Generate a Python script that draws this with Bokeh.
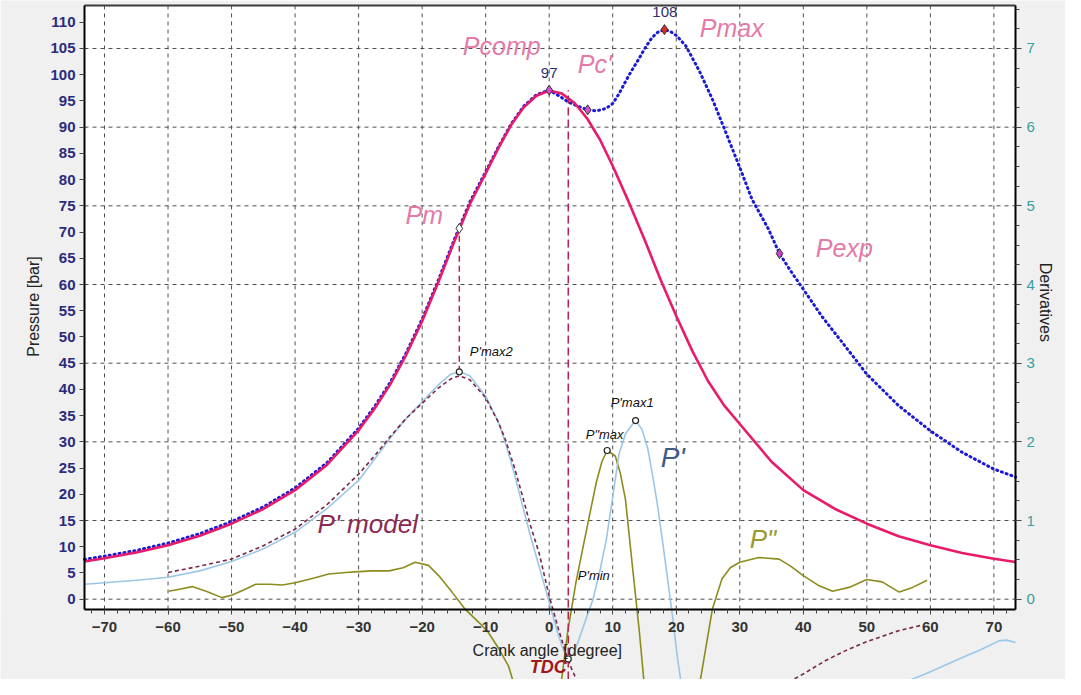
import math
from bokeh.plotting import figure
from bokeh.models import Range1d, LinearAxis, FixedTicker, BoxAnnotation
from bokeh.core.properties import value
from bokeh.embed import file_html
from bokeh.resources import INLINE

# ---------------- data ----------------
x_ticks = [-70, -60, -50, -40, -30, -20, -10, 0, 10, 20, 30, 40, 50, 60, 70]
x_minor = list(range(-72, 74, 2))
p_ticks = list(range(0, 115, 5))
d_ticks = [0, 1, 2, 3, 4, 5, 6, 7]
d_minor = [i * 0.25 for i in range(0, 31)]
h_grid = [0, 15, 30, 45, 60, 75, 90, 105]

# motored (compression) pressure, bar
red_x = [-73.15, -70, -65, -60, -55, -50, -45, -40, -35, -30, -27.5, -25, -22.5, -20,
         -17.5, -15, -12.5, -10, -8, -6, -4, -2, 0, 2, 4, 6, 8, 10, 12.5, 15, 17.5, 20,
         22.5, 25, 27.5, 30, 35, 40, 45, 50, 55, 60, 65, 70, 73.4]
red_y = [7.2, 7.8, 8.9, 10.3, 12.1, 14.4, 17.2, 20.8, 25.6, 32.2, 36.3, 41.0, 46.6, 53.0,
         60.3, 68.0, 75.3, 81.2, 86.0, 90.4, 93.8, 96.0, 97.0, 96.4, 94.6, 91.6, 87.6, 82.6,
         75.8, 68.6, 61.0, 54.0, 47.4, 41.6, 37.0, 33.4, 26.2, 20.8, 17.2, 14.4, 12.0, 10.3,
         8.8, 7.7, 7.1]

# measured cylinder pressure, bar
blue_x = [-73.15, -70, -65, -60, -55, -50, -45, -40, -35, -30, -27.5, -25, -22.5, -20,
          -17.5, -15, -12.5, -10, -8, -6, -4, -2, 0, 1.5, 3, 4.5, 6.06, 7.5, 9, 10, 11,
          12.5, 14.1, 15.2, 16.2, 17.1, 18.14, 19, 20.1, 21.5, 23.6, 25.7, 27.8, 30.1,
          31.9, 34.5, 36.25, 38, 40, 43, 46.1, 50, 55, 60, 65, 70, 73.4]
blue_y = [7.6, 8.2, 9.3, 10.7, 12.5, 14.8, 17.6, 21.2, 26.0, 32.6, 36.7, 41.4, 47.0, 53.4,
          60.7, 68.4, 75.7, 81.5, 86.2, 90.6, 94.0, 96.2, 97.06, 96.0, 94.8, 94.0, 93.3,
          93.1, 93.6, 94.5, 96.4, 99.8, 103.0, 105.3, 107.1, 108.1, 108.6, 108.3, 107.4,
          105.5, 100.8, 95.3, 89.0, 82.0, 76.3, 70.6, 65.9, 62.6, 59.1, 53.8, 49.0, 42.9,
          36.9, 32.1, 28.0, 24.8, 23.3]

# first derivative P' (derivative units)
dp_x = [-73.15, -70, -65, -60, -55, -50, -45, -40, -35, -30, -27.5, -25, -22.5, -20,
        -17.5, -15.5, -14.15, -12.5, -10, -8, -6.9, -5.5, -4.2, -3, -1.6, 0, 1.3, 2.2,
        3.0, 3.8, 4.7, 5.8, 6.9, 8, 9, 10, 11, 12, 12.7, 13.6, 14.6, 15.5, 16.2, 17.0,
        17.8, 18.6, 19.4, 20.2, 21.0, 25, 35, 45, 54, 59.2, 64.5, 68, 70.8, 72, 73.4]
dp_y = [0.19, 0.21, 0.24, 0.28, 0.36, 0.48, 0.64, 0.85, 1.15, 1.51, 1.78, 2.05, 2.30,
        2.51, 2.72, 2.86, 2.89, 2.84, 2.58, 2.25, 1.99, 1.60, 1.19, 0.82, 0.42, -0.04,
        -0.42, -0.64, -0.76, -0.70, -0.51, -0.25, 0.0, 0.37, 0.76, 1.30, 1.85, 2.10,
        2.18, 2.27, 2.16, 1.92, 1.61, 1.22, 0.76, 0.28, -0.21, -0.75, -1.2, -2.2, -2.6,
        -2.0, -1.12, -0.95, -0.76, -0.64, -0.53, -0.52, -0.55]

# P' model
pm_x = [-60, -55, -50, -45, -40, -35, -30, -27.5, -25, -22.5, -20, -17.5, -15.5, -14.15,
        -12.5, -10, -8, -6.9, -5.5, -4.2, -3, -1.6, 0, 1.6, 2.6, 3.5, 5, 10, 20, 30,
        36.2, 40, 43.5, 47, 50.3, 55, 58.7]
pm_y = [0.34, 0.42, 0.51, 0.68, 0.89, 1.20, 1.59, 1.82, 2.07, 2.30, 2.49, 2.68, 2.80,
        2.84, 2.79, 2.56, 2.25, 2.03, 1.68, 1.31, 0.95, 0.59, 0.04, -0.42, -0.68, -0.88,
        -1.15, -1.8, -2.2, -1.6, -1.12, -0.95, -0.78, -0.64, -0.53, -0.40, -0.33]

# second derivative P''
pp_x = [-59.9, -58, -56.2, -54, -51.5, -50, -48, -46.2, -44, -42, -40, -37, -34.7, -32,
        -30, -27.9, -25.2, -23, -21.1, -19, -17.4, -15.3, -13.2, -11, -9.6, -8, -6.4,
        -5.4, -4, -2, 0, 1, 1.8, 2.9, 4.2, 5.8, 7.4, 8.3, 9.13, 10.4, 11.2, 12, 13.1,
        14.2, 15, 16, 20, 23.6, 25.7, 27.2, 28.5, 30, 33, 36.2, 38, 40, 42.5, 44.6,
        47.2, 50, 52.4, 55.1, 57.2, 59.5]
pp_y = [0.10, 0.13, 0.16, 0.10, 0.02, 0.05, 0.12, 0.19, 0.19, 0.18, 0.21, 0.27, 0.32,
        0.34, 0.35, 0.36, 0.36, 0.40, 0.47, 0.43, 0.30, 0.09, -0.13, -0.30, -0.42, -0.62,
        -0.85, -1.12, -1.5, -1.9, -2.0, -1.6, -1.12, -0.42, 0.21, 0.85, 1.48, 1.75, 1.89,
        1.82, 1.60, 1.27, 0.42, -0.42, -1.12, -1.8, -2.4, -1.12, -0.12, 0.26, 0.40, 0.47,
        0.53, 0.51, 0.42, 0.30, 0.17, 0.10, 0.15, 0.25, 0.22, 0.09, 0.15, 0.24]

# characteristic pressure points (bar)
mk_names = ["Pm", "Pcomp", "Pc'", "Pmax", "Pexp"]
mk_x = [-14.15, 0.0, 6.06, 18.14, 36.25]
mk_y = [70.7, 97.06, 93.3, 108.6, 65.9]
mk_fill = ["white", "#d64fd0", "#d64fd0", "#e02828", "#d040c8"]

# characteristic derivative points
dk_names = ["P'max2", "P'max1", "P\"max", "P'min"]
dk_x = [-14.15, 13.6, 9.13, 3.0]
dk_y = [2.89, 2.27, 1.89, -0.76]

tdc_angle = 3.0

# ---------------- figure ----------------
# axis box (data limits of the drawn frame)
X_MIN, X_MAX = -73.15, 73.4
AXIS_Y, TOP_Y = -1.95, 113.2
# whole canvas range (the plot area fills the canvas; outer strips are greyed)
CX0, CX1 = -86.37, 81.27
CY0, CY1 = -15.31, 114.15
SCALE = 15.0  # 1 derivative unit = 15 bar on the grid
FONT = "Liberation Sans"
GREY = "#f0f0f0"

p = figure(width=1065, height=679, x_range=Range1d(CX0, CX1), y_range=Range1d(CY0, CY1),
           x_axis_location=None, y_axis_location=None,
           output_backend="svg", toolbar_location=None,
           min_border_left=0, min_border_right=0, min_border_top=0, min_border_bottom=0,
           background_fill_color="white", border_fill_color=GREY,
           outline_line_color=None)
p.extra_y_ranges = {"d": Range1d(CY0 / SCALE, CY1 / SCALE)}
p.xgrid.visible = False
p.ygrid.visible = False

# grey strips outside the axis box
for kw in (dict(top=AXIS_Y), dict(bottom=TOP_Y), dict(right=X_MIN), dict(left=X_MAX)):
    p.add_layout(BoxAnnotation(fill_color=GREY, fill_alpha=1.0, line_color=None,
                               level="underlay", **kw))

# grid
p.segment(x0=[X_MIN] * len(h_grid), y0=h_grid, x1=[X_MAX] * len(h_grid), y1=h_grid,
          line_color="#505050", line_dash="4 4", line_width=1)
p.segment(x0=x_ticks, y0=[AXIS_Y] * len(x_ticks), x1=x_ticks, y1=[TOP_Y] * len(x_ticks),
          line_color="#505050", line_dash="4 4", line_width=1)

# axes
left = LinearAxis(fixed_location=X_MIN, ticker=FixedTicker(ticks=p_ticks),
                  bounds=(AXIS_Y, TOP_Y), axis_line_width=2, axis_line_color="black",
                  major_tick_out=5, major_tick_in=0, major_tick_line_color="#444",
                  minor_tick_line_color=None, major_label_standoff=4,
                  major_label_text_color="#2b2b7d", major_label_text_font=FONT,
                  major_label_text_font_style="bold", major_label_text_font_size="15px")
p.add_layout(left, "left")

right = LinearAxis(fixed_location=X_MAX, y_range_name="d",
                   ticker=FixedTicker(ticks=d_ticks, minor_ticks=d_minor),
                   bounds=(AXIS_Y / SCALE, TOP_Y / SCALE),
                   axis_line_width=2, axis_line_color="black",
                   major_tick_out=6, major_tick_in=0, minor_tick_out=4, minor_tick_in=0,
                   major_tick_line_color="#444", minor_tick_line_color="#444",
                   major_label_standoff=5, major_label_text_color="#3a9e9e",
                   major_label_text_font=FONT, major_label_text_font_size="15px")
p.add_layout(right, "right")

bottom = LinearAxis(fixed_location=AXIS_Y,
                    ticker=FixedTicker(ticks=x_ticks, minor_ticks=x_minor),
                    bounds=(X_MIN, X_MAX), axis_line_width=2, axis_line_color="black",
                    major_tick_out=5, major_tick_in=0, minor_tick_out=4, minor_tick_in=0,
                    major_tick_line_color="#444", minor_tick_line_color="#444",
                    major_label_standoff=8, major_label_text_color="#333333",
                    major_label_text_font=FONT, major_label_text_font_style="bold",
                    major_label_text_font_size="15px")
p.add_layout(bottom, "below")

top = LinearAxis(fixed_location=TOP_Y, ticker=FixedTicker(ticks=[]),
                 bounds=(X_MIN, X_MAX), axis_line_width=2, axis_line_color="#3c3c3c",
                 major_tick_line_color=None, minor_tick_line_color=None)
p.add_layout(top, "above")

# ---------------- curves ----------------
p.line(pp_x, pp_y, y_range_name="d", line_color="#8c8c1e", line_width=1.6)
p.line(dp_x, dp_y, y_range_name="d", line_color="#9cc6e6", line_width=1.6)
p.line(pm_x, pm_y, y_range_name="d", line_color="#7b2648", line_width=1.6, line_dash="4 3")
p.line(blue_x, blue_y, line_color="#1a1ad6", line_width=3, line_dash="1 4", line_cap="round")
p.line(red_x, red_y, line_color="#ea1a6a", line_width=2.6)

# vertical dashed markers
p.segment(x0=[mk_x[0]], y0=[dk_y[0] * SCALE], x1=[mk_x[0]], y1=[mk_y[0]],
          line_color="#b8244c", line_width=1.5, line_dash="6 4")
p.segment(x0=[tdc_angle], y0=[CY0], x1=[tdc_angle], y1=[mk_y[1]],
          line_color="#b8244c", line_width=1.5, line_dash="8 4")

# markers
p.scatter(mk_x, mk_y, marker="diamond", size=10, fill_color=mk_fill,
          line_color="#333333", line_width=1)
p.scatter(dk_x, dk_y, y_range_name="d", marker="circle", size=6, fill_color="white",
          line_color="#222222", line_width=1.2)

# ---------------- texts ----------------
def txt(x, y, s, color, size, style="italic", align="left", angle=0.0):
    p.text(x=[x], y=[y], text=[s], text_color=color, text_font=value(FONT),
           text_font_size=size, text_font_style=style, text_align=align,
           text_baseline="middle", angle=angle)

pink = "#e47aa8"
txt(-13.6, 105.45, "Pcomp", pink, "25px")
txt(4.49, 102.0, "Pc'", pink, "25px")
txt(23.7, 109.0, "Pmax", pink, "25px")
txt(-22.6, 73.2, "Pm", pink, "25px")
txt(41.97, 67.05, "Pexp", pink, "25px")
txt(0.0, 100.4, "97", "#2e2e6e", "15px", "normal", "center")
txt(18.2, 112.0, "108", "#2e2e6e", "15px", "normal", "center")
txt(-12.5, 47.2, "P'max2", "#111111", "13px")
txt(9.68, 37.5, "P'max1", "#111111", "13px")
txt(5.75, 31.4, "P\"max", "#111111", "13px")
txt(4.49, 4.54, "P'min", "#111111", "13px")
txt(17.56, 27.0, "P'", "#3c5a8c", "28px")
txt(-36.46, 14.26, "P' model", "#8a2a52", "26px")
txt(31.57, 11.4, "P\"", "#9a9a30", "26px")
txt(-3.07, -13.0, "TDC", "#a01818", "18px", "bold italic")
txt(-0.3, -9.8, "Crank angle [degree]", "#222222", "16px", "normal", "center")
txt(-81.18, 55.8, "Pressure [bar]", "#222222", "16px", "normal", "center", math.pi / 2)
txt(78.12, 56.6, "Derivatives", "#222222", "16px", "normal", "center", -math.pi / 2)

open("out.html", "w").write(file_html(p, INLINE))
